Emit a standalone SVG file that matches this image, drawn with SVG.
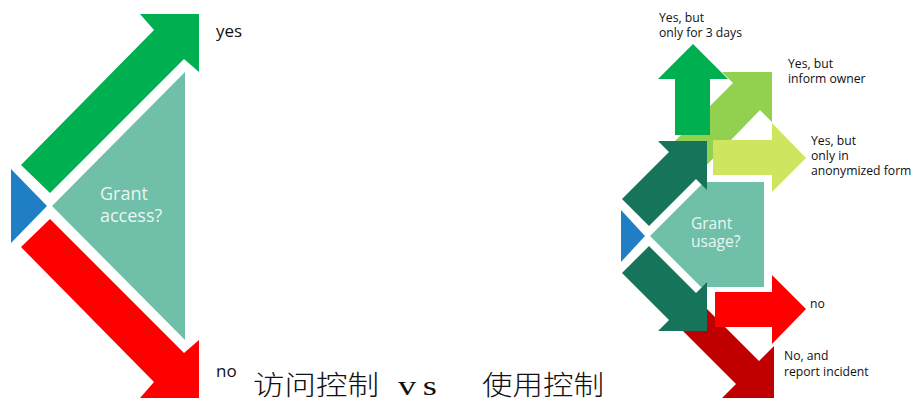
<svg xmlns="http://www.w3.org/2000/svg" width="918" height="403" viewBox="0 0 918 403">
<style>
.lbl{font-family:"Open Sans","Liberation Sans",sans-serif;font-size:12.2px;fill:#111}
.big{font-family:"Open Sans","Liberation Sans",sans-serif;font-size:17px;fill:#111}
.q{font-family:"Open Sans","Liberation Sans",sans-serif;fill:#EAF6F1}
.cjk{font-family:"Noto Sans CJK SC","Noto Sans CJK JP",sans-serif;font-size:27px;font-weight:300;fill:#111}
.vs{font-family:"Liberation Serif",serif;font-size:28px;fill:#111}
</style>
<rect width="918" height="403" fill="#fff"/>
<g id="connectors">
  <polygon id="acc-yes" points="21,165 154,30 140,14 199,14 199,72 184,59 50,193" fill="#00B050"/>
  <polygon id="acc-no" points="21,247 154,382 140,398 199,398 199,340 184,353 50,219" fill="#FF0000"/>
  <polygon id="use-owner" points="672,144 733,83 722,72 772,72 772,122 760,110 700,172" fill="#92D050"/>
  <polygon id="use-anon" points="713,140 772,140 772,123 806,158 772,192 772,175 713,175" fill="#CDE55F"/>
  <polygon id="use-3days" points="693,44 728,79 710,79 710,135 675,135 675,79 658,79" fill="#00B050"/>
  <polygon id="use-incident" points="667,315 690,292 759,361 774,346 774,398 722,398 736,384" fill="#C00000"/>
  <polygon id="use-no" points="715,292 772,292 772,275 806,309 772,344 772,327 715,327" fill="#FF0000"/>
</g>
<g id="access-start"><polygon points="11,169 47,206 11,243" fill="#1F7EC4"/></g>
<g id="access-decision">
  <polygon points="52,206 185,72 185,340" fill="#70BFA9"/>
  <text class="q" font-size="18" x="100" y="200">Grant</text>
  <text class="q" font-size="18" x="100" y="222">access?</text>
</g>
<g id="usage-start"><polygon points="621,210 645,236 621,262" fill="#1F7EC4"/></g>
<g id="usage-decision">
  <polygon points="650,236 704,182 764,182 764,287 701,287" fill="#70BFA9"/>
  <text class="q" font-size="15.5" x="691" y="228.5">Grant</text>
  <text class="q" font-size="15.5" x="691" y="247">usage?</text>
</g>
<g id="usage-yes-path"><polygon points="622,199 669,152 658,141 707,141 707,190 696,179 649,226" fill="#15745A"/></g>
<g id="usage-no-path"><polygon points="622,273 669,320 658,331 707,331 707,282 696,293 649,246" fill="#15745A"/></g>
<g id="labels">
  <text class="big" x="216" y="37">yes</text>
  <text class="big" x="216" y="377">no</text>
  <text class="lbl" x="659" y="22">Yes, but</text>
  <text class="lbl" x="659" y="37">only for 3 days</text>
  <text class="lbl" x="788" y="68">Yes, but</text>
  <text class="lbl" x="788" y="83">inform owner</text>
  <text class="lbl" x="811" y="145">Yes, but</text>
  <text class="lbl" x="811" y="160">only in</text>
  <text class="lbl" x="811" y="175">anonymized form</text>
  <text class="lbl" x="810" y="308">no</text>
  <text class="lbl" x="784" y="360">No, and</text>
  <text class="lbl" x="784" y="376">report incident</text>
</g>
<g id="title">
  <text class="cjk" x="253" y="395" textLength="126" lengthAdjust="spacingAndGlyphs">访问控制</text>
  <text class="vs" x="398" y="395" letter-spacing="5" transform="translate(398 0) scale(1.3 1) translate(-398 0)">vs</text>
  <text class="cjk" x="482" y="395" textLength="122" lengthAdjust="spacingAndGlyphs">使用控制</text>
</g>
</svg>
